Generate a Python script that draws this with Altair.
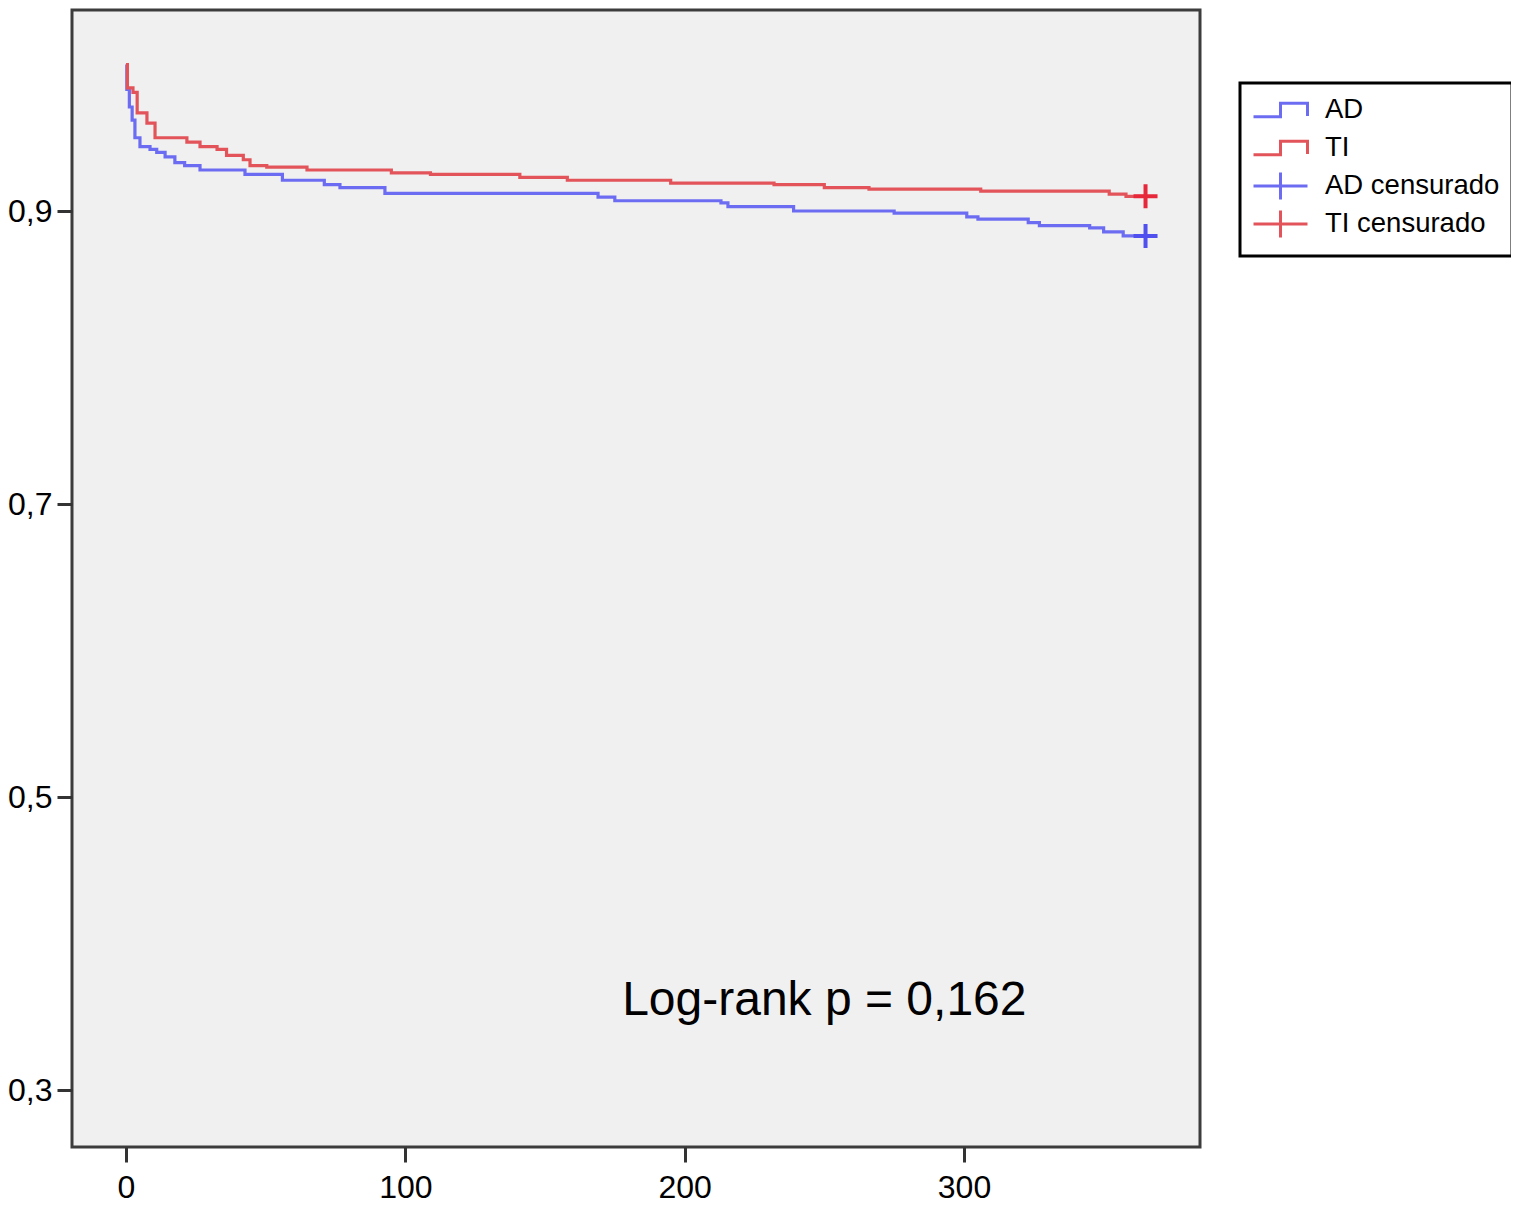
import altair as alt
import pandas as pd

# ---- data ----
ad_t = [0, 0.3, 1.2, 2.2, 3.2, 5, 8.6, 11, 14, 17.5, 21, 26.5, 42.6, 56, 71, 76.6, 92.7,
        169, 175, 213, 215.5, 239, 275, 301, 305, 323, 327, 345, 350, 357, 365]
ad_s = [1.0, 0.983, 0.971, 0.962, 0.950, 0.944, 0.942, 0.940, 0.937, 0.933, 0.931, 0.928, 0.925,
        0.921, 0.918, 0.916, 0.912, 0.9095, 0.907, 0.9055, 0.903, 0.900, 0.8985, 0.896, 0.8945,
        0.892, 0.890, 0.8885, 0.8857, 0.883, 0.883]
ti_t = [0, 0.5, 2.5, 4, 7.5, 10.4, 21.8, 26.5, 32.6, 36, 42, 44.4, 50.4, 64.8, 95, 109, 141,
        158, 195, 232, 250, 266, 306, 352, 358, 365]
ti_s = [1.0, 0.984, 0.981, 0.967, 0.960, 0.950, 0.947, 0.944, 0.942, 0.938, 0.935, 0.931, 0.930,
        0.928, 0.926, 0.925, 0.923, 0.921, 0.919, 0.918, 0.916, 0.915, 0.9135, 0.9115, 0.910, 0.910]
cens_ad_t = [365]
cens_ad_s = [0.883]
cens_ti_t = [365]
cens_ti_s = [0.910]
legend_labels = ["AD", "TI", "AD censurado", "TI censurado"]
x_ticks = [0, 100, 200, 300]
y_ticks = [0.3, 0.5, 0.7, 0.9]
note_text = ["Log-rank p = 0,162"]
note_t = [250]
note_s = [0.361]

FONT = "Liberation Sans"
BLUE_LINE = "#6c6cf2"
RED_LINE = "#e2545a"
BLUE_MARK = "#5050ee"
RED_MARK = "#e6283a"

x_scale = alt.Scale(domain=[-19.33, 384.5], nice=False, zero=False)
y_scale = alt.Scale(domain=[0.2611, 1.0372], nice=False, zero=False)

x_axis = alt.Axis(values=x_ticks, title=None, grid=False, domain=False, tickSize=15,
                  tickWidth=3, tickColor="#333333", labelFontSize=32, labelFont=FONT,
                  labelColor="black", labelPadding=10, labelFlush=False)
y_axis = alt.Axis(values=y_ticks, title=None, grid=False, domain=False, tickSize=15,
                  tickWidth=3, tickColor="#333333", labelFontSize=32, labelFont=FONT,
                  labelColor="black", labelPadding=5,
                  labelExpr="replace(format(datum.value, '.1f'), '.', ',')")

X = alt.X("t:Q", scale=x_scale, axis=x_axis)
Y = alt.Y("s:Q", scale=y_scale, axis=y_axis)

ad_df = pd.DataFrame({"t": ad_t, "s": ad_s})
ti_df = pd.DataFrame({"t": ti_t, "s": ti_s})

line_ad = alt.Chart(ad_df).mark_line(interpolate="step-after", color=BLUE_LINE,
                                     strokeWidth=3.2).encode(x=X, y=Y)
line_ti = alt.Chart(ti_df).mark_line(interpolate="step-after", color=RED_LINE,
                                     strokeWidth=3.2).encode(x=X, y=Y)

PLUS = "M-1,0H1M0,-1V1"
cens_ad = alt.Chart(pd.DataFrame({"t": cens_ad_t, "s": cens_ad_s})).mark_point(
    shape=PLUS, size=576, strokeWidth=4, filled=False, opacity=1, color=BLUE_MARK
).encode(x=X, y=Y)
cens_ti = alt.Chart(pd.DataFrame({"t": cens_ti_t, "s": cens_ti_s})).mark_point(
    shape=PLUS, size=576, strokeWidth=4, filled=False, opacity=1, color=RED_MARK
).encode(x=X, y=Y)

note = alt.Chart(pd.DataFrame({"t": note_t, "s": note_s, "label": note_text})).mark_text(
    font=FONT, fontSize=48, align="center", baseline="middle", color="black"
).encode(x=X, y=Y, text="label:N")

STEP_SYM = "M-1,0.5H1V-0.5H3V0.45"
CROSS_SYM = "M-1,0H3M1,-1V1"

leg = alt.Legend(title=None, orient="none", legendX=1168, legendY=73,
                 labelFont=FONT, labelFontSize=27.5, labelColor="black", labelLimit=400,
                 labelOffset=43, padding=12, rowPadding=-2, gridAlign="all",
                 symbolSize=729, symbolStrokeWidth=3, symbolOpacity=1,
                 symbolFillColor="transparent")

legend_df = pd.DataFrame({"grupo": legend_labels,
                          "t": [365, 365, 365, 365],
                          "s": [0.883, 0.910, 0.883, 0.910]})
legend_layer = alt.Chart(legend_df).mark_point(filled=False, opacity=0).encode(
    x=X, y=Y,
    color=alt.Color("grupo:N", sort=legend_labels,
                    scale=alt.Scale(domain=legend_labels,
                                    range=[BLUE_LINE, RED_LINE, BLUE_LINE, RED_LINE]),
                    legend=leg),
    shape=alt.Shape("grupo:N", sort=legend_labels,
                    scale=alt.Scale(domain=legend_labels,
                                    range=[STEP_SYM, STEP_SYM, CROSS_SYM, CROSS_SYM]),
                    legend=leg),
)

chart = alt.layer(line_ad, line_ti, cens_ad, cens_ti, note, legend_layer).properties(
    width=1128, height=1137,
    autosize=alt.AutoSizeParams(type="none"),
    padding={"left": 64, "top": 2, "right": 311, "bottom": 58},
    background="white",
).configure_view(
    fill="#f0f0f0", stroke="#3c3c3c", strokeWidth=3
).configure_legend(
    strokeColor="black", strokeWidth=3
)

chart.save("out.html", embed_options={"renderer": "svg", "actions": False})
